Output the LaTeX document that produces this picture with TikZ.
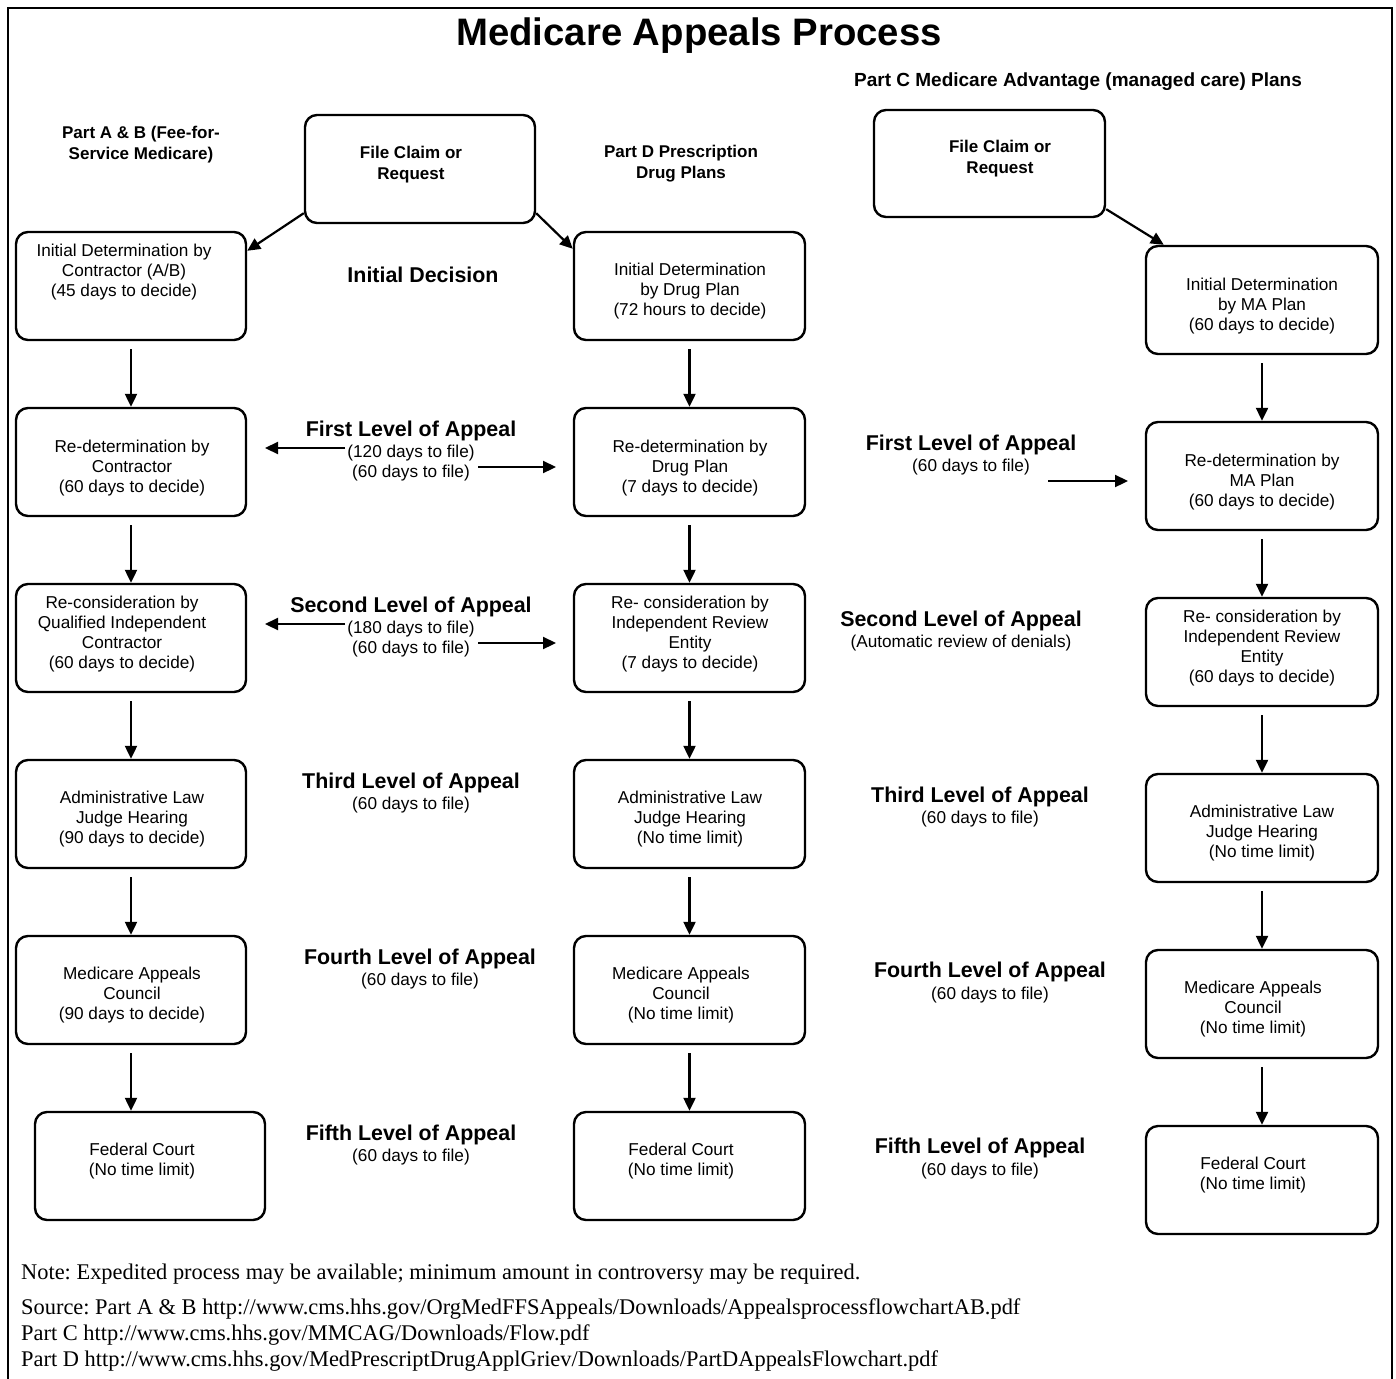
\documentclass[tikz,border=0pt]{standalone}
\usepackage{fontspec}
\setmainfont{Liberation Sans}
\newfontfamily\serifnote{Liberation Serif}
\usetikzlibrary{arrows.meta}
\frenchspacing
\begin{document}
\begin{tikzpicture}[x=1pt,y=-1pt,
 box/.style={draw, line width=2.4pt, rounded corners=12pt, minimum width=230pt, minimum height=108pt, inner sep=0pt},
 btxt/.style={align=center, font=\fontsize{17.2}{20}\selectfont, inner sep=0pt, yshift=-2pt},
 hdr/.style={align=center, font=\bfseries\fontsize{17}{21}\selectfont, inner sep=0pt, yshift=-2pt},
 lvl/.style={align=center, font=\bfseries\fontsize{21.4}{22}\selectfont, inner sep=0pt, yshift=-2pt},
 sub/.style={align=center, font=\fontsize{17.2}{20}\selectfont, inner sep=0pt, yshift=-2pt},
 arr/.style={line width=2.2pt, -{Triangle[length=13pt,width=12pt]}},
 note/.style={anchor=west, font=\serifnote\fontsize{22.4}{24}\selectfont, inner sep=0pt, yshift=-2pt}]

\useasboundingbox (0,0) rectangle (1396,1378);
\draw[line width=2.5pt] (8,1385) -- (8,8) -- (1392,8) -- (1392,1385);

% titles
\node[font=\bfseries\fontsize{38.3}{40}\selectfont, inner sep=0pt] (title) at (699,36) {Medicare Appeals Process};
\node[hdr] (hab) at (141,143) {Part A \& B (Fee-for-\\Service Medicare)};
\node[hdr] (hd) at (681,162) {Part D Prescription\\Drug Plans};
\node[hdr, font=\bfseries\fontsize{19}{21}\selectfont] (hc) at (1078,80) {Part C Medicare Advantage (managed care) Plans};

% file claim boxes
\node[box] (fc) at (420,169) {};
\node[hdr] (fct) at (411,163) {File Claim or\\Request};
\node[box, minimum width=231pt, minimum height=107pt] (cfc) at (989.5,163.5) {};
\node[hdr] (cfct) at (1000,157) {File Claim or\\Request};

% column A/B
\node[box] (a1) at (131,286) {};
\node[box] (a2) at (131,462) {};
\node[box] (a3) at (131,638) {};
\node[box] (a4) at (131,814) {};
\node[box] (a5) at (131,990) {};
\node[box] (a6) at (150,1166) {};
\node[btxt] (a1t) at (124,270) {Initial Determination by\\Contractor (A/B)\\(45 days to decide)};
\node[btxt] (a2t) at (132,466) {Re-determination by\\Contractor\\(60 days to decide)};
\node[btxt] (a3t) at (122,632) {Re-consideration by\\Qualified Independent\\Contractor\\(60 days to decide)};
\node[btxt] (a4t) at (132,817) {Administrative Law\\Judge Hearing\\(90 days to decide)};
\node[btxt] (a5t) at (132,993) {Medicare Appeals\\Council\\(90 days to decide)};
\node[btxt] (a6t) at (142,1159) {Federal Court\\(No time limit)};

% column D
\node[box, minimum width=231pt] (d1) at (689.5,286) {};
\node[box, minimum width=231pt] (d2) at (689.5,462) {};
\node[box, minimum width=231pt] (d3) at (689.5,638) {};
\node[box, minimum width=231pt] (d4) at (689.5,814) {};
\node[box, minimum width=231pt] (d5) at (689.5,990) {};
\node[box, minimum width=231pt] (d6) at (689.5,1166) {};
\node[btxt] (d1t) at (690,289) {Initial Determination\\by Drug Plan\\(72 hours to decide)};
\node[btxt] (d2t) at (690,466) {Re-determination by\\Drug Plan\\(7 days to decide)};
\node[btxt] (d3t) at (690,632) {Re- consideration by\\Independent Review\\Entity\\(7 days to decide)};
\node[btxt] (d4t) at (690,817) {Administrative Law\\Judge Hearing\\(No time limit)};
\node[btxt] (d5t) at (681,993) {Medicare Appeals\\Council\\(No time limit)};
\node[btxt] (d6t) at (681,1159) {Federal Court\\(No time limit)};

% column C
\node[box, minimum width=232pt] (c1) at (1262,300) {};
\node[box, minimum width=232pt] (c2) at (1262,476) {};
\node[box, minimum width=232pt] (c3) at (1262,652) {};
\node[box, minimum width=232pt] (c4) at (1262,828) {};
\node[box, minimum width=232pt] (c5) at (1262,1004) {};
\node[box, minimum width=232pt] (c6) at (1262,1180) {};
\node[btxt] (c1t) at (1262,304) {Initial Determination\\by MA Plan\\(60 days to decide)};
\node[btxt] (c2t) at (1262,480) {Re-determination by\\MA Plan\\(60 days to decide)};
\node[btxt] (c3t) at (1262,646) {Re- consideration by\\Independent Review\\Entity\\(60 days to decide)};
\node[btxt] (c4t) at (1262,831) {Administrative Law\\Judge Hearing\\(No time limit)};
\node[btxt] (c5t) at (1253,1007) {Medicare Appeals\\Council\\(No time limit)};
\node[btxt] (c6t) at (1253,1173) {Federal Court\\(No time limit)};

% vertical arrows
\foreach \p/\q in {a1/a2,a2/a3,a3/a4,a4/a5,a5/a6,d1/d2,d2/d3,d3/d4,d4/d5,d5/d6,c1/c2,c2/c3,c3/c4,c4/c5,c5/c6}
  \draw[arr] ([yshift=-8pt]\p.south) -- (\p.south |- \q.north);

% diagonal arrows
\draw[arr] ([yshift=11pt]fc.south west) -- ([yshift=-20pt]a1.north east);
\draw[arr] ([yshift=11pt]fc.south east) -- ([yshift=-18pt]d1.north west);
\draw[arr] ([yshift=9pt]cfc.south east) -- ([xshift=19pt]c1.north west);

% level labels, middle
\node[lvl] (id) at (423,273) {Initial Decision};
\node[lvl] (l1) at (411,429) {First Level of Appeal};
\node[sub] (l1s) at (411,461) {(120 days to file)\\(60 days to file)};
\node[lvl] (l2) at (411,605) {Second Level of Appeal};
\node[sub] (l2s) at (411,637) {(180 days to file)\\(60 days to file)};
\node[lvl] (l3) at (411,781) {Third Level of Appeal};
\node[sub] (l3s) at (411,803) {(60 days to file)};
\node[lvl] (l4) at (420,957) {Fourth Level of Appeal};
\node[sub] (l4s) at (420,979) {(60 days to file)};
\node[lvl] (l5) at (411,1133) {Fifth Level of Appeal};
\node[sub] (l5s) at (411,1155) {(60 days to file)};

\coordinate (p1a) at (345,448); \coordinate (p1b) at (265,448);
\coordinate (p1c) at (478,467); \coordinate (p1d) at (556,467);
\coordinate (p2a) at (345,624); \coordinate (p2b) at (265,624);
\coordinate (p2c) at (478,643); \coordinate (p2d) at (556,643);
\draw[arr] (p1a) -- (p1b);
\draw[arr] (p1c) -- (p1d);
\draw[arr] (p2a) -- (p2b);
\draw[arr] (p2c) -- (p2d);

% level labels, right
\node[lvl] (r1) at (971,443) {First Level of Appeal};
\node[sub] (r1s) at (971,465) {(60 days to file)};
\coordinate (q1a) at (1048,481); \coordinate (q1b) at (1128,481);
\draw[arr] (q1a) -- (q1b);
\node[lvl] (r2) at (961,619) {Second Level of Appeal};
\node[sub] (r2s) at (961,641) {(Automatic review of denials)};
\node[lvl] (r3) at (980,795) {Third Level of Appeal};
\node[sub] (r3s) at (980,817) {(60 days to file)};
\node[lvl] (r4) at (990,970) {Fourth Level of Appeal};
\node[sub] (r4s) at (990,993) {(60 days to file)};
\node[lvl] (r5) at (980,1146) {Fifth Level of Appeal};
\node[sub] (r5s) at (980,1169) {(60 days to file)};

% notes
\node[note] (n1) at (21,1272) {Note: Expedited process may be available; minimum amount in controversy may be required.};
\node[note] (n2) at (21,1307) {Source: Part A \& B http://www.cms.hhs.gov/OrgMedFFSAppeals/Downloads/AppealsprocessflowchartAB.pdf};
\node[note] (n3) at (21,1333) {Part C http://www.cms.hhs.gov/MMCAG/Downloads/Flow.pdf};
\node[note] (n4) at (21,1359) {Part D http://www.cms.hhs.gov/MedPrescriptDrugApplGriev/Downloads/PartDAppealsFlowchart.pdf};
\end{tikzpicture}
\end{document}
